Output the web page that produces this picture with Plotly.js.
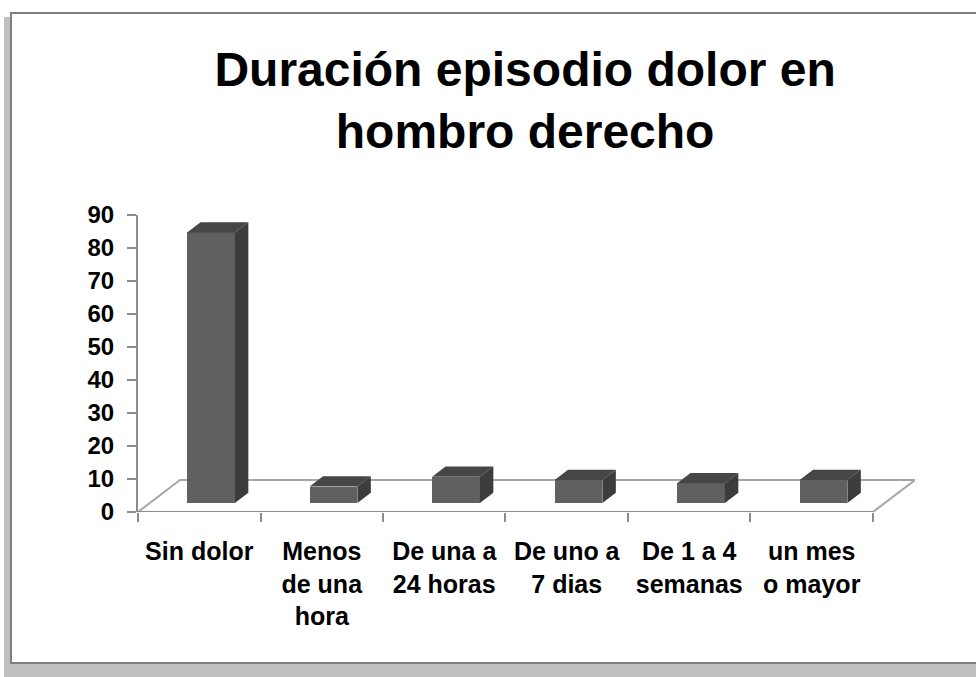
<!DOCTYPE html>
<html>
<head>
<meta charset="utf-8">
<script src="https://cdn.plot.ly/plotly-3.0.1.min.js"></script>
<style>
  html, body { margin:0; padding:0; background:#ffffff; overflow:hidden; width:976px; height:677px; }
  #frame { position:absolute; left:10px; top:12px; width:990px; height:648px; border:2px solid #7f7f7f; background:#ffffff;
           box-shadow: -6px 14px 0 #c0c0c0, -6px 5px 0 #c0c0c0; }
  #chart { position:absolute; left:0; top:0; width:976px; height:677px; }
</style>
</head>
<body>
<div id="frame"></div>
<div id="chart"></div>
<script>
// ---- data ----
const categories = ["Sin dolor", "Menos<br>de una<br>hora", "De una a<br>24 horas", "De uno a<br>7 dias", "De 1 a 4<br>semanas", "un mes<br>o mayor"];
const values = [82, 5, 8, 7, 6, 7];
const yTickVals = [0, 10, 20, 30, 40, 50, 60, 70, 80, 90];
const titleText = "Duración episodio dolor en<br>hombro derecho";

// ---- 3D look (style constants) ----
const DX = 0.343, DY = 9.7;          // floor depth in axis units
const F_FRONT = 0.28, F_BACK = 0.60; // bar depth fractions
const BW = 0.39;                     // bar width
const idx = categories.map((_, i) => i);
const n = categories.length;
const ox1 = DX * F_FRONT, oy1 = DY * F_FRONT, ox2 = DX * F_BACK, oy2 = DY * F_BACK;

const frontTrace = {
  type: 'bar', x: idx.map(i => i + ox1), y: values, base: oy1, width: BW,
  marker: { color: '#606060', line: { width: 0 } }, hoverinfo: 'skip', showlegend: false
};
const sx = [], sy = [], tx = [], ty = [];
idx.forEach(i => {
  const v = values[i];
  const xr1 = i + ox1 + BW / 2, xl1 = i + ox1 - BW / 2;
  const xr2 = i + ox2 + BW / 2, xl2 = i + ox2 - BW / 2;
  sx.push(xr1, xr2, xr2, xr1, null);
  sy.push(oy1, oy2, oy2 + v, oy1 + v, null);
  tx.push(xl1, xr1, xr2, xl2, null);
  ty.push(oy1 + v, oy1 + v, oy2 + v, oy2 + v, null);
});
const sideTrace = { type: 'scatter', mode: 'lines', x: sx, y: sy, fill: 'toself', fillcolor: '#3c3c3c',
  line: { width: 0 }, hoverinfo: 'skip', showlegend: false };
const topTrace = { type: 'scatter', mode: 'lines', x: tx, y: ty, fill: 'toself', fillcolor: '#464646',
  line: { width: 0 }, hoverinfo: 'skip', showlegend: false };

const gridCol = '#a6a6a6';
const x0 = -0.5, x1 = n - 0.5;
const shapes = [
  { type: 'path', layer: 'below', xref: 'x', yref: 'y',
    path: `M ${x0},0 L ${x0 + DX},${DY} L ${x1 + DX},${DY} L ${x1},0`,
    line: { color: gridCol, width: 2 } },
  { type: 'line', layer: 'below', xref: 'x', yref: 'y', x0: x0, y0: 0, x1: x1, y1: 0,
    line: { color: '#8c8c8c', width: 2 } }
];
const boundaries = [];
for (let i = 0; i <= n; i++) boundaries.push(i - 0.5);

const layout = {
  width: 976, height: 677,
  margin: { l: 138, r: 61, t: 215, b: 165, pad: 0 },
  paper_bgcolor: 'rgba(0,0,0,0)', plot_bgcolor: 'rgba(0,0,0,0)',
  font: { family: 'Liberation Sans, Arial, sans-serif', color: '#000000' },
  title: { text: titleText, x: 0.538, xanchor: 'center', xref: 'container', y: 0.873, yanchor: 'top', yref: 'container',
           font: { size: 48, family: 'Liberation Sans, Arial, sans-serif', weight: 'bold', color: '#000000' } },
  bargap: 0,
  xaxis: {
    range: [x0, x1 + DX], showgrid: false, zeroline: false, showline: false, fixedrange: true,
    tickmode: 'array', tickvals: idx, ticktext: categories, ticks: '', ticklabelstandoff: 22,
    tickfont: { size: 25, weight: 'bold', family: 'Liberation Sans, Arial, sans-serif', color: '#000' },
    minor: { tickmode: 'array', tickvals: boundaries, ticks: 'outside', ticklen: 9, tickwidth: 2, tickcolor: '#8c8c8c', showgrid: false }
  },
  yaxis: {
    range: [0, 90], tickmode: 'array', tickvals: yTickVals, showgrid: false, zeroline: false,
    showline: true, linecolor: '#8c8c8c', linewidth: 2, ticks: 'outside', ticklen: 9, tickwidth: 2, tickcolor: '#8c8c8c',
    ticklabelstandoff: 8, fixedrange: true,
    tickfont: { size: 24, weight: 'bold', family: 'Liberation Sans, Arial, sans-serif', color: '#000' }
  },
  shapes: shapes
};
Plotly.newPlot('chart', [frontTrace, sideTrace, topTrace], layout, { displayModeBar: false, staticPlot: true });
</script>
</body>
</html>
